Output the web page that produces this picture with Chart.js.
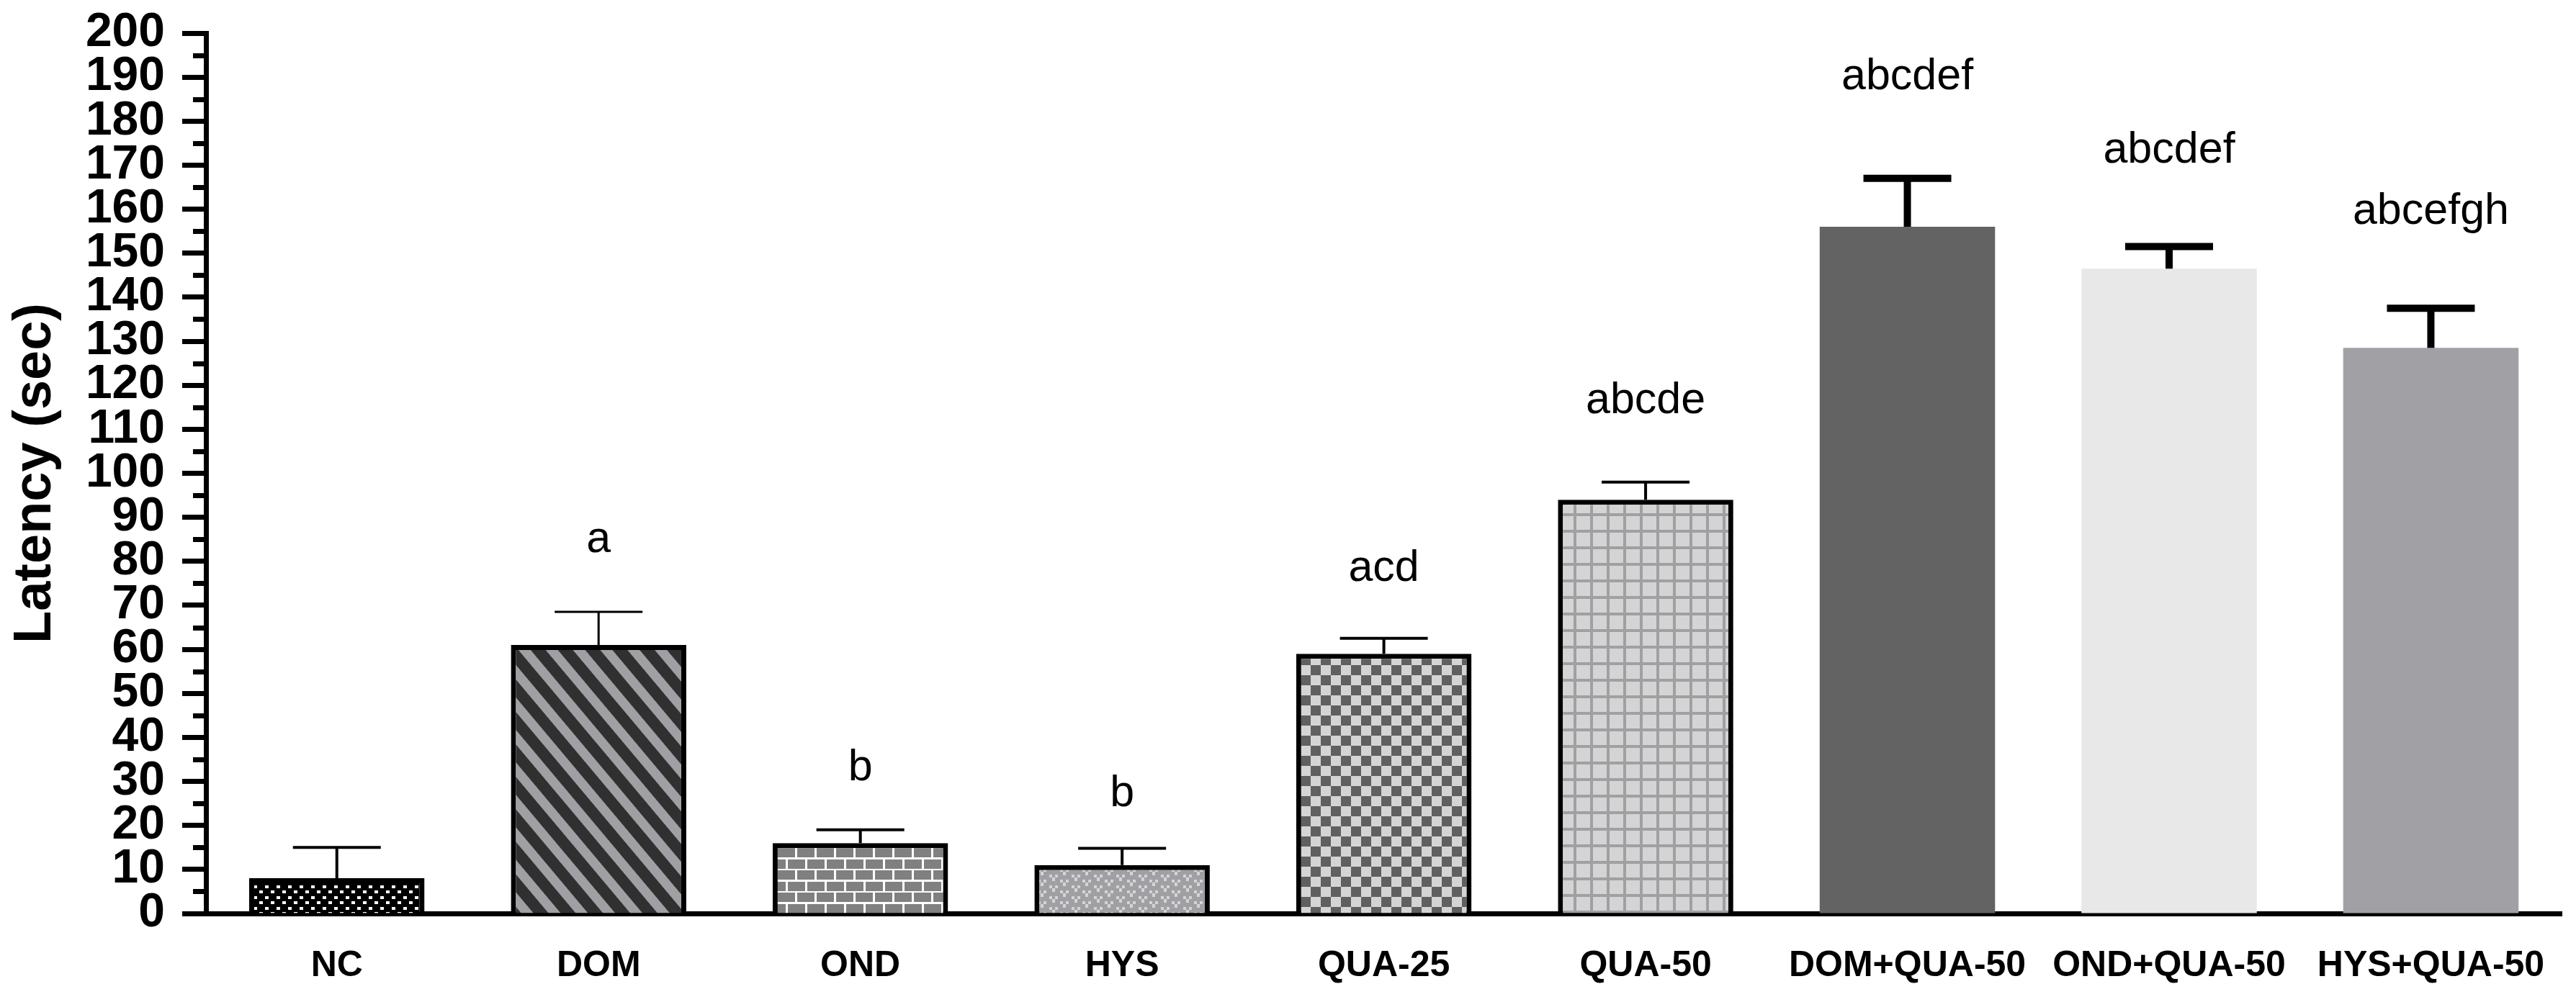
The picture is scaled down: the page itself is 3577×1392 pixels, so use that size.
<!DOCTYPE html>
<html>
<head>
<meta charset="utf-8">
<script src="https://cdn.jsdelivr.net/npm/chart.js@4.4.1/dist/chart.umd.min.js"></script>
<style>
html, body { margin: 0; padding: 0; background: #fff; }
#latencyChart { display: block; }
</style>
</head>
<body>
<canvas id="latencyChart" width="3577" height="1392"></canvas>
<script>
const groups = ['NC', 'DOM', 'OND', 'HYS', 'QUA-25', 'QUA-50', 'DOM+QUA-50', 'OND+QUA-50', 'HYS+QUA-50'];
const latencyMean = [8, 61, 16, 11, 59, 94, 156, 146.5, 128.5];
const latencySem = [7, 7.5, 3, 3.8, 3.5, 4, 11, 5, 9];
const significance = ['', 'a', 'b', 'b', 'acd', 'abcde', 'abcdef', 'abcdef', 'abcefgh'];
const yTickValues = [0, 10, 20, 30, 40, 50, 60, 70, 80, 90, 100, 110, 120, 130, 140, 150, 160, 170, 180, 190, 200];
const yMinorTicks = [5, 15, 25, 35, 45, 55, 65, 75, 85, 95, 105, 115, 125, 135, 145, 155, 165, 175, 185, 195];

// drawing styles, one entry per bar
const barBorder = [7, 7, 7, 7, 7, 7, 0, 0, 0];
const errorLine = [4, 3, 4, 4, 4, 4, 10, 10, 10];
const letterGap = [0, 83, 69, 58, 80, 96, 124, 117, 117];

const FONT = "'Liberation Sans', Arial, Helvetica, sans-serif";

function makeTile(w, h, draw) {
    const c = document.createElement('canvas');
    c.width = w;
    c.height = h;
    draw(c.getContext('2d'), w, h);
    return c;
}

function buildFills(ctx) {
    // NC: black with small staggered white blocks
    const nc = makeTile(16, 15, function(g, w, h) {
        g.fillStyle = '#000';
        g.fillRect(0, 0, w, h);
        g.fillStyle = '#fff';
        g.fillRect(0, 0, 5, 4);
        g.fillRect(8, 7, 5, 4);
    });

    // DOM: diagonal stripes
    const stripe = makeTile(8, 29, function(g, w, h) {
        g.fillStyle = '#a0a0a4';
        g.fillRect(0, 0, w, h);
        g.fillStyle = '#303030';
        g.fillRect(0, 0, w, 16);
    });
    const stripePattern = ctx.createPattern(stripe, 'repeat');
    stripePattern.setTransform(new DOMMatrix().rotate(50));

    // OND: bricks
    const brick = makeTile(27, 31, function(g, w, h) {
        g.fillStyle = '#fff';
        g.fillRect(0, 0, w, h);
        g.fillStyle = '#808080';
        g.fillRect(0, 0, 24, 13);
        g.fillRect(-13, 16, 24, 13);
        g.fillRect(14, 16, 24, 13);
    });

    // HYS: grey with light V marks
    const vmark = makeTile(31, 15, function(g, w, h) {
        g.fillStyle = '#a0a0a4';
        g.fillRect(0, 0, w, h);
        g.fillStyle = '#d4d4d4';
        [[0, 0], [15, 7], [15, -8]].forEach(function(p) {
            g.fillRect(p[0], p[1], 4, 4);
            g.fillRect(p[0] + 8, p[1], 4, 4);
            g.fillRect(p[0] + 4, p[1] + 4, 4, 5);
        });
    });

    // QUA-25: checkerboard
    const checker = makeTile(28, 28, function(g, w, h) {
        g.fillStyle = '#d4d4d4';
        g.fillRect(0, 0, w, h);
        g.fillStyle = '#606060';
        g.fillRect(0, 0, 14, 14);
        g.fillRect(14, 14, 14, 14);
    });

    // QUA-50: grid
    const grid = makeTile(23, 23, function(g, w, h) {
        g.fillStyle = '#d4d4d4';
        g.fillRect(0, 0, w, h);
        g.fillStyle = '#a0a0a4';
        g.fillRect(0, 0, 4, h);
        g.fillRect(0, 0, w, 4);
    });

    return [
        ctx.createPattern(nc, 'repeat'),
        stripePattern,
        ctx.createPattern(brick, 'repeat'),
        ctx.createPattern(vmark, 'repeat'),
        ctx.createPattern(checker, 'repeat'),
        ctx.createPattern(grid, 'repeat'),
        '#636363',
        '#e8e8e8',
        '#a1a0a5'
    ];
}

const annotatePlugin = {
    id: 'annotate',
    afterDatasetsDraw: function(chart) {
        const ctx = chart.ctx;
        const y = chart.scales.y;
        const meta = chart.getDatasetMeta(0);

        ctx.save();
        ctx.strokeStyle = '#000';
        ctx.fillStyle = '#000';
        meta.data.forEach(function(bar, i) {
            const top = y.getPixelForValue(latencyMean[i]);
            const cap = y.getPixelForValue(latencyMean[i] + latencySem[i]);
            ctx.lineWidth = errorLine[i];
            ctx.beginPath();
            ctx.moveTo(bar.x, top);
            ctx.lineTo(bar.x, cap);
            ctx.moveTo(bar.x - 61, cap);
            ctx.lineTo(bar.x + 61, cap);
            ctx.stroke();

            if (significance[i]) {
                ctx.font = '61px ' + FONT;
                ctx.textAlign = 'center';
                ctx.textBaseline = 'alphabetic';
                ctx.fillText(significance[i], bar.x, cap - letterGap[i]);
            }
        });

        // minor ticks on the y axis
        ctx.lineWidth = 7;
        ctx.beginPath();
        yMinorTicks.forEach(function(v) {
            const py = Math.round(y.getPixelForValue(v)) + 0.5;
            ctx.moveTo(y.right - 18, py);
            ctx.lineTo(y.right, py);
        });
        ctx.stroke();
        ctx.restore();
    }
};

function createLatencyChart() {
    const canvas = document.getElementById('latencyChart');
    const fills = buildFills(canvas.getContext('2d'));

    new Chart(canvas, {
        type: 'bar',
        data: {
            labels: groups,
            datasets: [{
                data: latencyMean,
                backgroundColor: fills,
                borderColor: '#000',
                borderWidth: barBorder,
                borderSkipped: 'start',
                barPercentage: 0.67,
                categoryPercentage: 1
            }]
        },
        options: {
            responsive: false,
            devicePixelRatio: 1,
            animation: false,
            events: [],
            layout: {
                padding: { top: 46, right: 15, left: 0, bottom: 0 }
            },
            plugins: {
                legend: { display: false },
                tooltip: { enabled: false }
            },
            scales: {
                x: {
                    offset: true,
                    grid: { display: false, drawTicks: false },
                    border: { display: true, color: '#000', width: 7 },
                    ticks: {
                        color: '#000',
                        padding: 43,
                        maxRotation: 0,
                        autoSkip: false,
                        font: { family: FONT, weight: 'bold', size: 50 }
                    },
                    afterFit: function(scale) {
                        scale.height = 123;
                    }
                },
                y: {
                    min: 0,
                    max: 200,
                    afterBuildTicks: function(scale) {
                        scale.ticks = yTickValues.map(function(v) {
                            return { value: v };
                        });
                    },
                    grid: {
                        drawOnChartArea: false,
                        drawTicks: true,
                        tickLength: 33,
                        tickWidth: 7,
                        tickColor: '#000'
                    },
                    border: { display: true, color: '#000', width: 7 },
                    ticks: {
                        autoSkip: false,
                        color: '#000',
                        padding: 24,
                        font: { family: FONT, weight: 'bold', size: 66 }
                    },
                    title: {
                        display: true,
                        text: 'Latency (sec)',
                        color: '#000',
                        padding: { top: 5, bottom: 0 },
                        font: { family: FONT, weight: 'bold', size: 74 }
                    },
                    afterFit: function(scale) {
                        scale.width = 286;
                        scale.paddingTop = 0;
                        scale.paddingBottom = 0;
                    }
                }
            }
        },
        plugins: [annotatePlugin]
    });
}

document.addEventListener('DOMContentLoaded', createLatencyChart);
</script>
</body>
</html>
